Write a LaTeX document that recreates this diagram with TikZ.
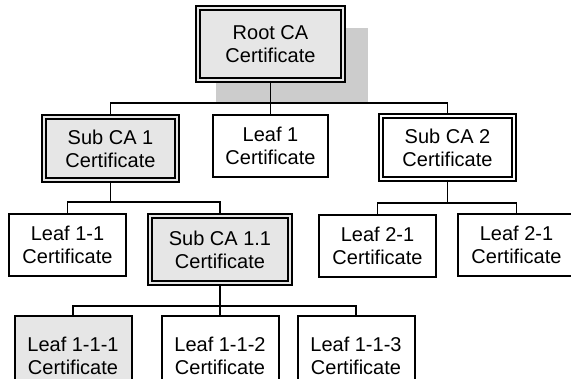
\documentclass[tikz,border=0pt]{standalone}
\usepackage{fontspec}
\setmainfont{Liberation Sans}
\definecolor{cafill}{HTML}{E6E6E6}
\definecolor{shadowgray}{HTML}{CCCCCC}
\tikzset{
  cert/.style={draw=black, line width=2pt, fill=white, rectangle, inner sep=0pt,
    align=center, font=\fontsize{20}{23}\selectfont},
  leafbox/.style={cert, minimum width=117pt, minimum height=62pt},
  cabox/.style={cert, line width=1.8pt, double=cafill, double distance=2pt, fill=cafill,
    minimum width=133pt, minimum height=63pt},
  shaded/.style={fill=cafill},
  conn/.style={draw=black, line width=1.8pt},
}
\begin{document}
\begin{tikzpicture}[x=1pt, y=-1pt]
  \useasboundingbox (0,0) rectangle (571,378);
  \clip (0,0) rectangle (571,378);

  % drop shadow behind the root certificate
  \fill[shadowgray] (216,28) rectangle (368,102);

  % root
  \node[cabox, minimum width=145pt, minimum height=72pt] (root) at (270.5,44) {Root CA\\Certificate};

  % second level
  \node[cabox] (sub1) at (110.5,148.5) {Sub CA 1\\Certificate};
  \node[leafbox, minimum width=115pt] (leaf1) at (270.5,146) {Leaf 1\\Certificate};
  \node[cabox, double=white, fill=white] (sub2) at (447.5,147.5) {Sub CA 2\\Certificate};

  % third level
  \node[leafbox] (leaf11) at (67.5,245) {Leaf 1-1\\Certificate};
  \node[cabox, minimum width=140pt, minimum height=67pt] (sub11) at (220,249.5) {Sub CA 1.1\\Certificate};
  \node[leafbox] (leaf21a) at (377.5,245.5) {Leaf 2-1\\Certificate};
  \node[leafbox] (leaf21b) at (516.5,245) {Leaf 2-1\\Certificate};

  % fourth level
  \node[leafbox, shaded, minimum height=80pt] (leaf111) at (73,356) {Leaf 1-1-1\\Certificate};
  \node[leafbox, minimum height=80pt] (leaf112) at (220,356) {Leaf 1-1-2\\Certificate};
  \node[leafbox, minimum height=80pt] (leaf113) at (356,356) {Leaf 1-1-3\\Certificate};

  % junction points of the buses
  \coordinate (j1) at (270.5,103);
  \coordinate (j2) at (110.5,202);
  \coordinate (j3) at (447.5,203);
  \coordinate (j4) at (220,306);

  % connectors
  \draw[conn] (root.south) -- (j1);
  \draw[conn] (sub1.north) |- (j1) -| (sub2.north);
  \draw[conn] (leaf1.north) -- (leaf1.north |- j1);

  \draw[conn] (sub1.south) -- (j2);
  \draw[conn] (leaf11.north) |- (j2) -| (sub11.north);

  \draw[conn] (sub2.south) -- (j3);
  \draw[conn] (leaf21a.north) |- (j3) -| (leaf21b.north);

  \draw[conn] (sub11.south) -- (j4);
  \draw[conn] (leaf111.north) |- (j4) -| (leaf113.north);
  \draw[conn] (leaf112.north) -- (leaf112.north |- j4);
\end{tikzpicture}
\end{document}
